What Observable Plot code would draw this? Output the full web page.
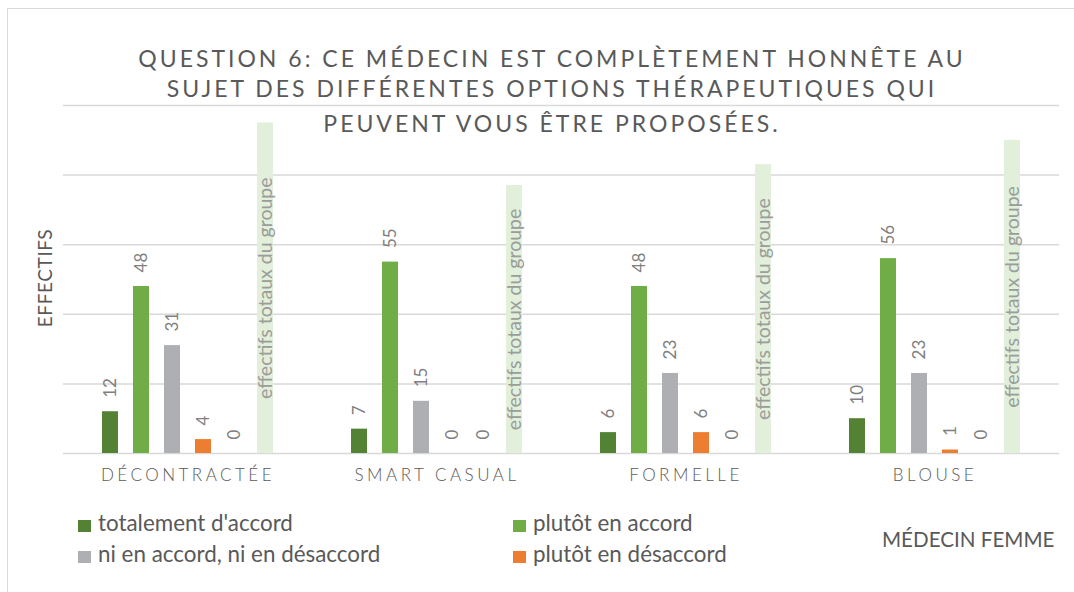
<!DOCTYPE html>
<html>
<head>
<meta charset="utf-8">
<script src="https://cdn.jsdelivr.net/npm/d3@7"></script>
<script src="https://cdn.jsdelivr.net/npm/@observablehq/plot@0.6"></script>
<style>
  html, body { margin: 0; padding: 0; background: #fff; overflow: hidden; }
  body { font-family: Lato, "Open Sans", sans-serif; color: #595959; }
  #wrap { position: relative; width: 1074px; height: 592px; overflow: hidden; }
  #frame { position: absolute; left: 7px; top: 8px; width: 1100px; height: 640px; border: 1px solid #d9d9d9; }
  #chart { position: absolute; left: 0; top: 0; }
  #chart svg { overflow: visible; }
  .tline { position: absolute; left: 0; width: 1104px; text-align: center; font-size: 23px;
           letter-spacing: 3px; line-height: 28px; color: #595959; white-space: nowrap; }
  #ylabel { position: absolute; left: 44px; top: 278px; transform: translate(-50%, -50%) rotate(-90deg);
            font-size: 19px; letter-spacing: 0.6px; color: #595959; white-space: nowrap; }
  .leg { position: absolute; font-size: 22.4px; color: #595959; white-space: nowrap; line-height: 24px; }
  .leg .sw { display: inline-block; width: 13px; height: 12px; margin-right: 7px; vertical-align: -1px; }
  #note { position: absolute; left: 882px; top: 527px; font-size: 20.6px; color: #595959; white-space: nowrap; line-height: 24px; }
</style>
</head>
<body>
<div id="wrap">
  <div id="frame"></div>
  <div id="chart"></div>
  <div id="title"></div>
  <div id="ylabel"></div>
  <div id="legend"></div>
  <div id="note"></div>
</div>
<script>
// ---- data ----
const groups = ["DÉCONTRACTÉE", "SMART CASUAL", "FORMELLE", "BLOUSE"];
const totalementDAccord = [12, 7, 6, 10];
const plutotEnAccord = [48, 55, 48, 56];
const niEnAccordNiEnDesaccord = [31, 15, 23, 23];
const plutotEnDesaccord = [4, 0, 6, 1];
const totalementEnDesaccord = [0, 0, 0, 0];
const effectifsTotaux = [95, 77, 83, 90];
const yTicks = [0, 20, 40, 60, 80, 100];

const titleLines = [
  "QUESTION 6: CE MÉDECIN EST COMPLÈTEMENT HONNÊTE AU",
  "SUJET DES DIFFÉRENTES OPTIONS THÉRAPEUTIQUES QUI",
  "PEUVENT VOUS ÊTRE PROPOSÉES."
];
const yAxisTitle = "EFFECTIFS";
const totalLabel = "effectifs totaux du groupe";
const noteText = "MÉDECIN FEMME";

const series = [
  {key: "totalement d'accord", values: totalementDAccord, color: "#548235", legend: true},
  {key: "plutôt en accord", values: plutotEnAccord, color: "#70ad47", legend: true},
  {key: "ni en accord, ni en désaccord", values: niEnAccordNiEnDesaccord, color: "#aeafb2", legend: true},
  {key: "plutôt en désaccord", values: plutotEnDesaccord, color: "#ed7d31", legend: true},
  {key: "totalement en désaccord", values: totalementEnDesaccord, color: "#c00000", legend: false},
  {key: totalLabel, values: effectifsTotaux, color: "#e2efda", legend: false, total: true}
];

const rows = groups.flatMap((g, i) => series.map(s => ({
  group: g, series: s.key, value: s.values[i], color: s.color, total: !!s.total
})));

const chart = Plot.plot({
  width: 1074,
  height: 592,
  marginTop: 105,
  marginBottom: 139,
  marginLeft: 62,
  marginRight: 14,
  style: {background: "transparent", fontFamily: "Lato, 'Open Sans', sans-serif"},
  fx: {domain: groups, padding: 0, axis: null},
  x: {domain: series.map(s => s.key), paddingInner: 0.48, paddingOuter: 1.15, axis: null},
  y: {domain: [0, 100], axis: null},
  marks: [
    Plot.ruleY(yTicks, {stroke: "#d9d9d9", strokeWidth: 1.5}),
    Plot.barY(rows, {fx: "group", x: "series", y: "value", fill: "color"}),
    Plot.text(rows.filter(d => !d.total), {
      fx: "group", x: "series", y: "value", text: d => String(d.value),
      rotate: -90, textAnchor: "start", dy: -14, fill: "#7f7f7f", fontSize: 17
    }),
    Plot.text(rows.filter(d => d.total), {
      fx: "group", x: "series", y: d => d.value / 2, text: "series",
      rotate: -90, textAnchor: "middle", fill: "#9a9d9a", fontSize: 19.5
    }),
    Plot.text(groups, {
      fx: d => d, text: d => d, frameAnchor: "bottom", dy: 27,
      fill: "#595958", fontSize: 17, fontWeight: 300
    })
  ]
});
document.getElementById("chart").appendChild(chart);
// letter-spaced category labels
d3.select(chart).selectAll('g[fill="#595958"] text').style("letter-spacing", "3.5px");

const titleTops = [44, 74, 109];
document.getElementById("title").innerHTML = titleLines
  .map((l, i) => `<div class="tline" style="top:${titleTops[i]}px">${l}</div>`).join("");
document.getElementById("ylabel").textContent = yAxisTitle;
document.getElementById("note").textContent = noteText;

const legendPos = [
  {left: 78, top: 511}, {left: 513, top: 511},
  {left: 78, top: 542}, {left: 513, top: 542}
];
const legend = document.getElementById("legend");
series.filter(s => s.legend).forEach((s, i) => {
  const d = document.createElement("div");
  d.className = "leg";
  d.style.left = legendPos[i].left + "px";
  d.style.top = legendPos[i].top + "px";
  d.innerHTML = `<span class="sw" style="background:${s.color}"></span>${s.key}`;
  legend.appendChild(d);
});
</script>
</body>
</html>
